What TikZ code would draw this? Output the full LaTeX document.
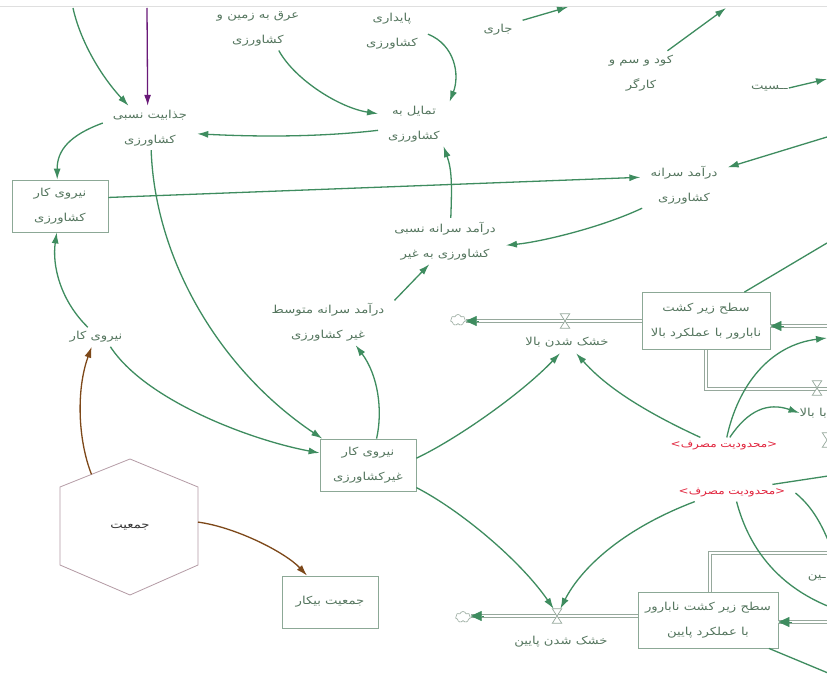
\documentclass[tikz,border=0pt]{standalone}
\usepackage{fontspec}
\newfontfamily\arabicfont[Script=Arabic,FakeStretch=1.2]{DejaVu Sans}
\TeXXeTstate=1
\usetikzlibrary{arrows.meta,shapes.symbols,calc}
\newcommand{\fa}[1]{\beginR #1\endR}
\definecolor{linkc}{RGB}{62,140,95}
\definecolor{txtc}{RGB}{85,118,95}
\definecolor{boxc}{RGB}{140,168,150}
\definecolor{pipec}{RGB}{150,168,156}
\definecolor{redc}{RGB}{225,35,60}
\definecolor{purplec}{RGB}{105,25,120}
\definecolor{brownc}{RGB}{125,72,25}
\definecolor{hexc}{RGB}{180,155,165}

\begin{document}
\begin{tikzpicture}[x=1pt,y=-1pt,
  lbl/.style={font=\arabicfont\fontsize{11}{25}\selectfont, text=txtc, align=center, inner xsep=10pt, inner ysep=4pt},
  stock/.style={lbl, draw=boxc, line width=0.8pt, minimum width=96pt, minimum height=52pt, inner sep=2pt},
  shadowvar/.style={lbl, text=redc, font=\arabicfont\fontsize{10}{25}\selectfont},
  link/.style={draw=linkc, line width=1.3pt, -{Latex[length=11pt,width=7pt]}},
  plainlink/.style={draw=linkc, line width=1.3pt},
  pipe/.style={draw=pipec, line width=0.7pt, double=white, double distance=2.8pt},
  flowtip/.style={draw=linkc, line width=0.4pt, -{Triangle[length=11pt,width=10pt]}},
  valve/.style={minimum width=9pt, minimum height=14pt, inner sep=0pt},
  valvemark/.style={draw=pipec, line width=0.7pt, fill=white},
  sink/.style={cloud, cloud puffs=7, aspect=1.4, draw=pipec, line width=0.6pt, fill=white, minimum width=15pt, minimum height=11pt, inner sep=0pt},
]
\useasboundingbox (0,0) rectangle (827,674);
\clip (0,0) rectangle (827,674);
\fill[white] (0,0) rectangle (827,674);
\draw[gray!25, line width=1.2pt] (0,6.5) -- (827,6.5);

% ---------- variables ----------
\node[lbl] (jaz) at (150,128) {\fa{جذابیت نسبی}\\\fa{کشاورزی}};
\node[lbl] (arq) at (258,29) {\fa{عرق به زمین و}\\\fa{کشاورزی}};
\node[lbl] (pay) at (392,31) {\fa{پایداری}\\\fa{کشاورزی}};
\node[lbl] (jari) at (498,30) {\fa{جاری}};
\node[lbl] (kud) at (641,73) {\fa{کود و سم و}\\\fa{کارگر}};
\node[lbl, anchor=west, inner xsep=1pt] (sit) at (750,88) {\fa{ــسیت}};
\node[lbl] (tam) at (414,124) {\fa{تمایل به}\\\fa{کشاورزی}};
\node[lbl] (dsk) at (684,185) {\fa{درآمد سرانه}\\\fa{کشاورزی}};
\node[lbl] (dsn) at (445,241) {\fa{درآمد سرانه نسبی}\\\fa{کشاورزی به غیر}};
\node[lbl] (dsm) at (328,322) {\fa{درآمد سرانه متوسط}\\\fa{غیر کشاورزی}};
\node[lbl] (nk) at (96,337) {\fa{نیروی کار}};

% ---------- stocks ----------
\node[stock] (nkk) at (60,206) {\fa{نیروی کار}\\\fa{کشاورزی}};
\node[stock] (ng) at (368,465) {\fa{نیروی کار}\\\fa{غیرکشاورزی}};
\node[stock] (jb) at (330,602) {\fa{جمعیت بیکار}};
\node[stock, minimum width=128pt, minimum height=57pt] (s1) at (706,321) {\fa{سطح زیر کشت}\\\fa{نابارور با عملکرد بالا}};
\node[stock, minimum width=140pt, minimum height=56pt] (s2) at (708,620) {\fa{سطح زیر کشت نابارور}\\\fa{با عملکرد پایین}};

% ---------- population hexagon ----------
\coordinate (h1) at (130,459);
\coordinate (h2) at (198,487);
\coordinate (h3) at (198,565);
\coordinate (h4) at (130,595);
\coordinate (h5) at (60,565);
\coordinate (h6) at (60,487);
\draw[hexc, line width=0.8pt, fill=white] (h1)--(h2)--(h3)--(h4)--(h5)--(h6)--cycle;
\node[lbl, text=black!80] (pop) at (130,527) {\fa{جمعیت}};
\coordinate (popA) at ($(h6)!0.45!(h1)$);
\coordinate (popB) at ($(h2)!0.45!(h3)$);

% ---------- flows ----------
\node[sink] (c1) at (458,320) {};
\node[sink] (c2) at (463,617) {};
\node[valve] (v1) at (565,321) {};
\node[valve] (v2) at (557,616) {};
\node[valve] (v3) at (817,388) {};
\node[valve] (v4) at (827,440) {};
\node[lbl, inner ysep=6pt] (v1l) at (567,342) {\fa{خشک شدن بالا}};
\node[lbl] (v2l) at (561,642) {\fa{خشک شدن پایین}};
\node[lbl, anchor=east, inner sep=0pt] (v3l) at (827,413) {\fa{با بالا}};
\node[lbl, anchor=east, inner sep=0pt] (v5l) at (826,578) {\fa{ـین}};

\coordinate (p1) at (830,389);
\coordinate (p2) at (830,553);
\draw[pipe] (s1.west) -- (s1.west -| c1.east);
\draw[pipe] ([yshift=-5pt]s1.east) -- ++(70,0);
\draw[pipe] (s1.south) |- (p1);
\draw[pipe] ([yshift=4pt]s2.west) -- ([yshift=4pt]s2.west -| c2.east);
\draw[pipe] ([yshift=-2pt]s2.east) -- ++(70,0);
\draw[pipe] ([xshift=2pt]s2.north) |- (p2);
\path[flowtip] ($(s1.west -| c1.east)+(13,0)$) -- (s1.west -| c1.east);
\path[flowtip] ($([yshift=-5pt]s1.east)+(14,0)$) -- ([yshift=-5pt]s1.east);
\path[flowtip] ($([yshift=4pt]s2.west -| c2.east)+(13,0)$) -- ([yshift=4pt]s2.west -| c2.east);
\path[flowtip] ($([yshift=-2pt]s2.east)+(14,0)$) -- ([yshift=-2pt]s2.east);
\foreach \v in {v1,v2,v3,v4}
  \draw[valvemark] (\v.north west) -- (\v.north east) -- (\v.south west) -- (\v.south east) -- cycle;

\node[shadowvar] (r1) at (724,446) {\fa{<محدودیت مصرف>}};
\node[shadowvar] (r2) at (732,493) {\fa{<محدودیت مصرف>}};

% ---------- free ends ----------
\coordinate (topA) at (73,8);
\coordinate (topB) at (147,8);
\coordinate (topK) at (568,7);
\coordinate (topJ) at (726,8);
\coordinate (edgeS) at (827,79);
\coordinate (edgeI) at (827,137);
\coordinate (edgeX) at (827,243);
\coordinate (edgeV) at (827,338);
\coordinate (edgeL1) at (828,476);
\coordinate (edgeL2) at (830,545);
\coordinate (edgeL3) at (830,607);
\coordinate (edgeC) at (828,673);

% ---------- links ----------
\draw[link] (topA) .. controls (80,40) and (100,75) .. (jaz.134);
\draw[link, draw=purplec] (topB) -- (jaz.96);
\draw[link] (arq.-46) .. controls (295,80) and (340,108) .. (tam.164);
\draw[link] (pay.-5) .. controls (455,45) and (460,75) .. (tam.32);
\draw[link] (tam.190) .. controls (320,137) and (260,137) .. (jaz.-7);
\draw[link] (dsn.76) .. controls (452,185) and (452,170) .. (tam.-37);
\draw[link] (dsk.209) .. controls (600,228) and (540,242) .. (dsn.-4);
\draw[link] (nkk.10) -- (dsk.170);
\draw[link] (edgeI) -- (dsk.22);
\draw[link] (kud.40) -- (topJ);
\draw[link] (jari.north east) -- (topK);
\draw[link] (sit.east) -- (edgeS);
\draw[link] (jaz.174) .. controls (70,135) and (57,150) .. (nkk.96);
\draw[link] (jaz.-87) .. controls (155,260) and (220,370) .. (ng.150);
\draw[link] (nk.130) .. controls (60,300) and (52,265) .. (nkk.-97);
\draw[link] (nk.-34) .. controls (145,400) and (250,440) .. (ng.166);
\draw[link, draw=brownc] (popA) .. controls (78,440) and (76,390) .. (nk.-114);
\draw[link, draw=brownc] (popB) .. controls (235,527) and (285,552) .. (jb.131);
\draw[link] (ng.72) .. controls (383,410) and (378,375) .. (dsm.-40);
\draw[link] (dsm.18) -- (dsn.-124);
\draw[link] (ng.8) .. controls (455,440) and (520,395) .. (v1l.-122);
\draw[link] (r1.160) .. controls (630,405) and (600,380) .. (v1l.-51);
\draw[link] (r1.72) .. controls (738,385) and (770,345) .. (edgeV);
\draw[link] (r1.56) .. controls (748,410) and (768,402) .. (v3l.west);
\draw[plainlink] (s1.37) -- (edgeX);
\draw[link] (ng.-25) .. controls (460,510) and (520,560) .. (v2.115);
\draw[link] (r2.193) .. controls (620,530) and (580,570) .. (v2.65);
\draw[plainlink] (r2.12) -- (edgeL1);
\draw[plainlink] (r2.east) .. controls (810,505) and (820,520) .. (edgeL2);
\draw[plainlink] (r2.-62) .. controls (748,545) and (775,585) .. (edgeL3);
\draw[plainlink] (s2.-25) -- (edgeC);
\end{tikzpicture}
\end{document}
